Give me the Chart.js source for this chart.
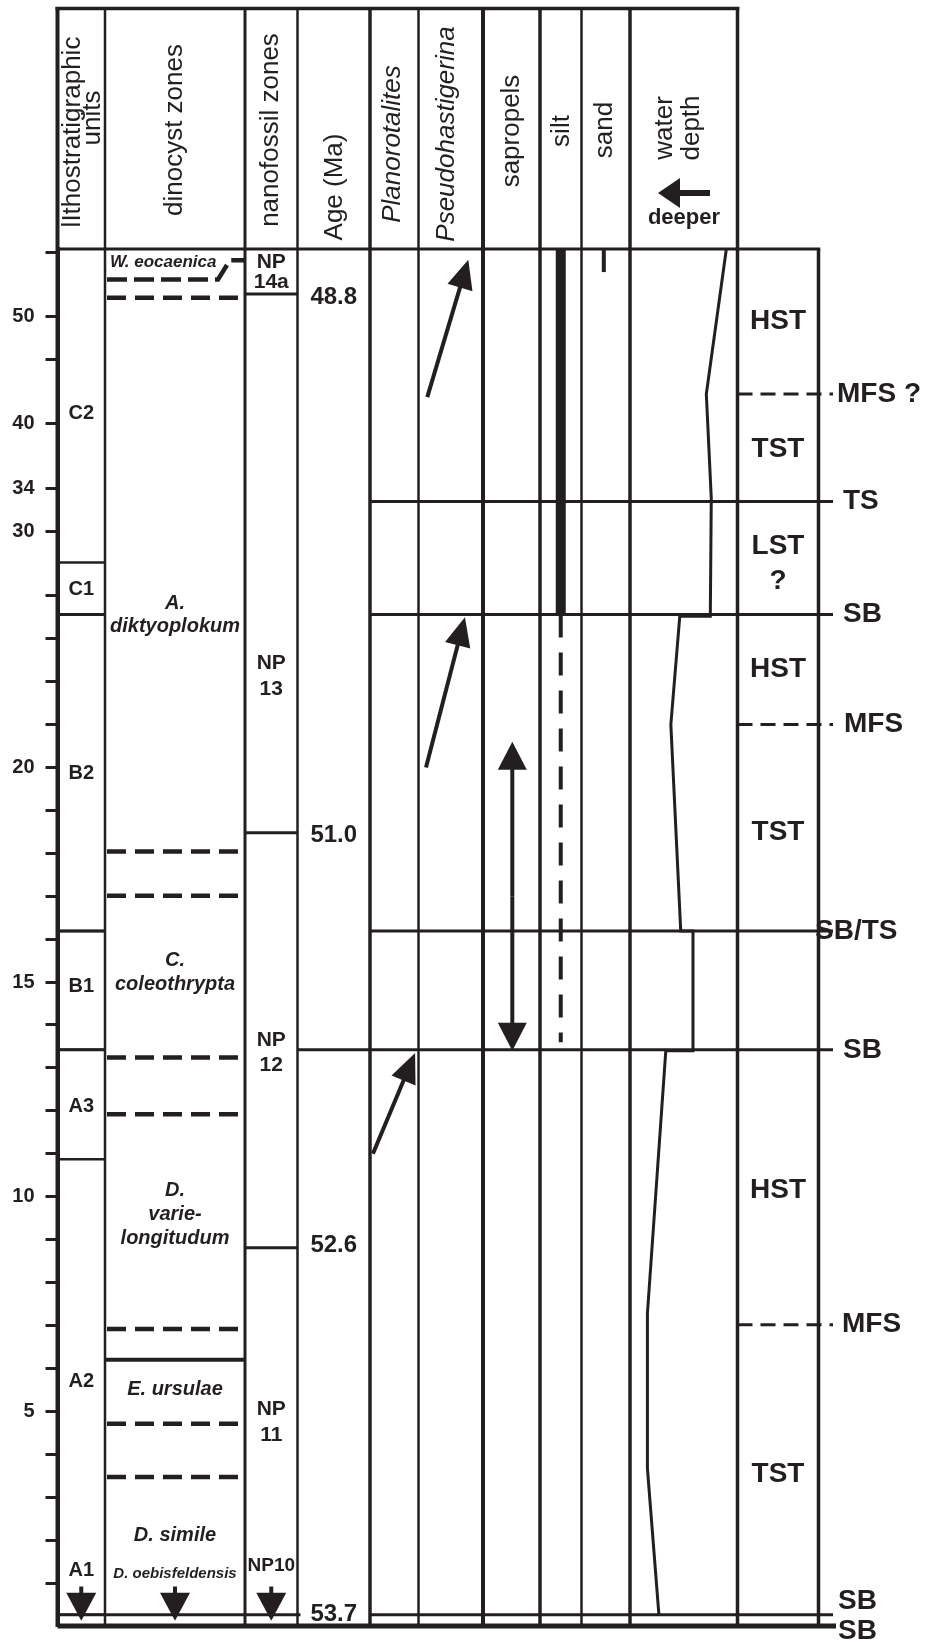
<!DOCTYPE html>
<html>
<head>
<meta charset="utf-8">
<script src="https://cdn.jsdelivr.net/npm/chart.js@4.4.1/dist/chart.umd.min.js"></script>
<style>
  html, body { margin: 0; padding: 0; background: #fff; }
  #wrap { width: 935px; height: 1649px; position: relative; }
</style>
</head>
<body>
<div id="wrap"><canvas id="chart"></canvas></div>
<script>
// ---- data (depth in m) ----
var tickDepths = [1,2,3,4,5,6,7,8,9,10,11,12,13,14,15,16,17,18,19,20,21,22,23,24,30,34,40,46,50,56];
var labelledTicks = [5,10,15,20,30,34,40,50];
var topDepth = 56.3;

var lithoUnits = ['C2','C1','B2','B1','A3','A2','A1'];
var lithoLabelDepth = [41.0, 24.55, 19.85, 14.9, 12.1, 5.7, 1.3];
var lithoBoundaries = [27.1, 23.56, 16.19, 13.42, 10.87, 0.26];

var dinoLabels = ['W. eocaenica','A.','diktyoplokum','C.','coleothrypta','D.','varie-','longitudum','E. ursulae','D. simile','D. oebisfeldensis'];
var dinoLabelDepth = [55.1, 23.81, 23.28, 15.5, 14.95, 10.14, 9.58, 9.03, 5.51, 2.12, 1.21];
var dinoDashed = [51.75, 18.04, 17.01, 13.24, 11.92, 6.92, 4.71, 3.47];
var dinoSolid = [6.2];
var eocaenicaBase = [53.46, 55.26];

var nanoLabels = ['NP','14a','NP','13','NP','12','NP','11','NP10'];
var nanoLabelDepth = [55.1, 53.24, 22.43, 21.81, 13.65, 13.07, 5.05, 4.44, 1.4];
var nanoBoundaries = [52.1, 18.48, 8.81];

var ages = ['48.8','51.0','52.6','53.7'];
var ageDepth = [51.81, 18.42, 8.86, 0.28];

var rangeFrom = [11.0, 42.5, 20.0];   // Planorotalites, Pseudohastigerina x2
var rangeTo = [13.35, 55.3, 23.5];
var sapropelRange = [13.4, 20.6];
var siltSolid = [56.3, 23.56];
var siltDashed = [23.56, 13.6];
var sandRange = [56.2, 54.15];

var waterDepthAt = [56.2, 42.79, 33.09, 23.52, 23.52, 21.0, 16.19, 16.19, 13.4, 13.4, 7.28, 3.67, 0.26];
var waterDepthIndex = [89.5, 71.0, 75.6, 74.7, 46.3, 38.0, 47.2, 58.6, 58.6, 33.3, 16.2, 16.2, 26.9]; // % across column, left = deeper

var surfaceNames = ['MFS ?','TS','SB','MFS','SB/TS','SB','MFS','SB','SB'];
var surfaceDepth = [42.79, 32.77, 23.56, 21.0, 16.19, 13.42, 7.02, 0.26, 0];

var tracts = ['HST','TST','LST','?','HST','TST','HST','TST'];
var tractDepth = [49.52, 37.65, 28.59, 25.33, 22.28, 18.48, 10.15, 3.53];

// ---- layout ----
var INK = '#231f20';
var FONT = '"Liberation Sans", Arial, Helvetica, sans-serif';
var scaleBreak = 24, upperCompression = 4;   // upper part of the log is drawn at 1/4 scale
function toAxis(d) { return d <= scaleBreak ? d : scaleBreak + (d - scaleBreak) / upperCompression; }

var colEdges = [0, 47.5, 187.5, 240, 312.5, 361, 425.5, 482.5, 524, 572.5, 680, 761];
var colLineW = [4, 2.5, 3, 2.5, 3.5, 2.5, 4, 3.5, 2.5, 3.5, 3.5, 3.5];
var headerTop = 8.5;

var surfaceSpans = [
  [[680, 775.5]], [[312.5, 775.5]], [[0, 47.5], [312.5, 775.5]], [[680, 775.5]],
  [[0, 47.5], [312.5, 775.5]], [[0, 47.5], [240, 775.5]], [[680, 775.5]],
  [[0, 243], [312.5, 775.5]], [[0, 778.5]]
];
var surfaceLabelX = [837, 843, 843, 844, 815, 843, 842, 838, 838];
var surfaceLabelDy = [0, 0, 0, 0, 0, 0, 0, -14, 5];

var waterPoints = waterDepthAt.map(function(d, i) {
  return { x: colEdges[9] + waterDepthIndex[i] / 100 * (colEdges[10] - colEdges[9]), y: toAxis(d) };
});

var logPlugin = {
  id: 'stratLog',
  afterDraw: function(chart) {
    var ctx = chart.ctx;
    var xs = chart.scales.x, ys = chart.scales.y;
    var X = function(v) { return xs.getPixelForValue(v); };
    var Y = function(d) { return ys.getPixelForValue(toAxis(d)); };
    var colX = function(i, f) { return X(colEdges[i] + f * (colEdges[i + 1] - colEdges[i])); };
    var top = chart.chartArea.top, bottom = chart.chartArea.bottom;

    function line(x1, y1, x2, y2, w, dash) {
      ctx.save();
      ctx.strokeStyle = INK; ctx.lineWidth = w; ctx.setLineDash(dash || []);
      ctx.beginPath(); ctx.moveTo(x1, y1); ctx.lineTo(x2, y2); ctx.stroke();
      ctx.restore();
    }
    function arrow(x1, y1, x2, y2, w, hl, hw) {
      var a = Math.atan2(y2 - y1, x2 - x1);
      var bx = x2 - hl * Math.cos(a), by = y2 - hl * Math.sin(a);
      line(x1, y1, bx + 2 * Math.cos(a), by + 2 * Math.sin(a), w);
      ctx.save(); ctx.fillStyle = INK; ctx.beginPath();
      ctx.moveTo(x2, y2);
      ctx.lineTo(bx + hw * Math.sin(a), by - hw * Math.cos(a));
      ctx.lineTo(bx - hw * Math.sin(a), by + hw * Math.cos(a));
      ctx.closePath(); ctx.fill(); ctx.restore();
    }
    function txt(s, x, y, font, align) {
      ctx.save(); ctx.fillStyle = INK; ctx.font = font;
      ctx.textAlign = align || 'center'; ctx.textBaseline = 'middle';
      ctx.fillText(s, x, y); ctx.restore();
    }
    function vtxt(s, x, y, font) {
      ctx.save(); ctx.translate(x, y); ctx.rotate(-Math.PI / 2);
      txt(s, 0, 0, font); ctx.restore();
    }

    // header frame
    line(X(0) - 2, headerTop, X(colEdges[10]) + 1.75, headerTop, 3.5);
    for (var i = 0; i <= 10; i++) line(X(colEdges[i]), headerTop - 1.5, X(colEdges[i]), top, colLineW[i]);
    // body frame
    line(X(0), top, X(colEdges[11]) + 1.75, top, 3);
    for (i = 0; i <= 11; i++) line(X(colEdges[i]), top, X(colEdges[i]), bottom + 1, colLineW[i]);

    // header text
    var hf = '26px ' + FONT, hfi = 'italic 26px ' + FONT;
    vtxt('lIthostratigraphic', 73, 132, hf);
    vtxt('units', 93, 118, hf);
    vtxt('dinocyst zones', 175, 130, hf);
    vtxt('nanofossil zones', 271, 130, hf);
    vtxt('Age (Ma)', 335, 187, hf);
    vtxt('Planorotalites', 393, 144, hfi);
    vtxt('Pseudohastigerina', 447, 134, hfi);
    vtxt('sapropels', 512, 131, hf);
    vtxt('silt', 562, 131, hf);
    vtxt('sand', 605, 130, hf);
    vtxt('water', 665, 128, hf);
    vtxt('depth', 692, 128, hf);
    arrow(710, 193, 658, 193, 6, 22, 15);
    txt('deeper', 684, 218, 'bold 22px ' + FONT);

    // lithostratigraphy
    lithoBoundaries.forEach(function(d) { line(X(colEdges[0]), Y(d), X(colEdges[1]), Y(d), 2.5); });
    lithoUnits.forEach(function(u, k) { txt(u, colX(0, 0.5), Y(lithoLabelDepth[k]), 'bold 20px ' + FONT); });

    // dinocyst zones
    dinoDashed.forEach(function(d) { line(X(colEdges[1]) + 2, Y(d), X(colEdges[2]), Y(d), 4.5, [19, 9]); });
    dinoSolid.forEach(function(d) { line(X(colEdges[1]), Y(d), X(colEdges[2]), Y(d), 4); });
    ctx.save(); ctx.strokeStyle = INK; ctx.lineWidth = 4.5; ctx.setLineDash([20, 7]);
    ctx.beginPath();
    ctx.moveTo(X(colEdges[1]) + 2, Y(eocaenicaBase[0]));
    ctx.lineTo(218, Y(eocaenicaBase[0]));
    ctx.lineTo(230, Y(eocaenicaBase[1]));
    ctx.lineTo(X(colEdges[2]), Y(eocaenicaBase[1]));
    ctx.stroke(); ctx.restore();
    dinoLabels.forEach(function(s, k) {
      if (k === 0) { txt(s, 110, Y(dinoLabelDepth[k]), 'italic bold 17px ' + FONT, 'left'); return; }
      var f = k === 10 ? 'italic bold 15px ' : 'italic bold 20px ';
      txt(s, colX(1, 0.5), Y(dinoLabelDepth[k]), f + FONT);
    });

    // nanofossil zones
    nanoBoundaries.forEach(function(d) { line(X(colEdges[2]), Y(d), X(colEdges[3]), Y(d), 3); });
    nanoLabels.forEach(function(s, k) {
      txt(s, colX(2, 0.5), Y(nanoLabelDepth[k]), (k === 8 ? 'bold 19px ' : 'bold 21px ') + FONT);
    });

    // ages
    ages.forEach(function(s, k) { txt(s, colX(3, 0.5), Y(ageDepth[k]), 'bold 24px ' + FONT); });

    // down arrows (units continue below)
    [0, 1, 2].forEach(function(c) { arrow(colX(c, 0.5), Y(0.92), colX(c, 0.5), Y(0.12), 4, 28, 15); });

    // surfaces
    surfaceNames.forEach(function(s, k) {
      var dashed = s.indexOf('MFS') === 0;
      var w = k === 8 ? 5 : 3;
      surfaceSpans[k].forEach(function(sp) {
        line(X(sp[0]), Y(surfaceDepth[k]), X(sp[1]), Y(surfaceDepth[k]), w, dashed ? [15, 8] : null);
      });
    });

    // silt / sand
    ctx.save(); ctx.fillStyle = INK;
    ctx.fillRect(colX(7, 0.5) - 5, Y(siltSolid[0]), 10, Y(siltSolid[1]) - Y(siltSolid[0]));
    ctx.restore();
    line(colX(7, 0.5), Y(siltDashed[0]), colX(7, 0.5), Y(siltDashed[1]), 4, [23, 15]);
    line(colX(8, 0.46), Y(sandRange[0]), colX(8, 0.46), Y(sandRange[1]), 4);

    // range arrows
    arrow(colX(4, 0.06), Y(rangeFrom[0]), colX(4, 0.93), Y(rangeTo[0]), 4, 30, 13);
    arrow(colX(5, 0.136), Y(rangeFrom[1]), colX(5, 0.772), Y(rangeTo[1]), 4, 29, 13);
    arrow(colX(5, 0.116), Y(rangeFrom[2]), colX(5, 0.72), Y(rangeTo[2]), 4, 29, 13);
    var sx = colX(6, 0.514), sm = (Y(sapropelRange[0]) + Y(sapropelRange[1])) / 2;
    arrow(sx, sm, sx, Y(sapropelRange[1]), 4, 28, 14.5);
    arrow(sx, sm, sx, Y(sapropelRange[0]), 4, 28, 14.5);

    // systems tracts and surface names
    tracts.forEach(function(s, k) { txt(s, colX(10, 0.5), Y(tractDepth[k]), 'bold 28px ' + FONT); });
    surfaceNames.forEach(function(s, k) {
      txt(s, surfaceLabelX[k], Y(surfaceDepth[k]) + surfaceLabelDy[k], 'bold 28px ' + FONT, 'left');
    });
  }
};

new Chart('chart', {
  type: 'scatter',
  data: {
    datasets: [{
      data: waterPoints,
      showLine: true,
      borderColor: INK,
      borderWidth: 3,
      pointRadius: 0,
      tension: 0,
      clip: false
    }]
  },
  options: {
    responsive: true,
    maintainAspectRatio: false,
    animation: false,
    devicePixelRatio: 1,
    layout: { padding: { left: 0, top: 249, right: 116.5, bottom: 20.5 } },
    plugins: { legend: { display: false }, tooltip: { enabled: false } },
    scales: {
      x: { type: 'linear', min: 0, max: 761, display: false },
      y: {
        type: 'linear',
        min: 0,
        max: toAxis(topDepth),
        afterFit: function(scale) { scale.width = 57.5; },
        afterBuildTicks: function(scale) {
          scale.ticks = tickDepths.map(function(d) { return { value: toAxis(d) }; });
        },
        grid: { drawOnChartArea: false, drawTicks: true, tickLength: 12, tickWidth: 3, tickColor: INK, color: INK },
        border: { display: true, width: 4, color: INK },
        ticks: {
          autoSkip: false,
          padding: 11,
          color: INK,
          font: { family: FONT, size: 20, weight: 'bold' },
          callback: function(value, index) {
            var d = tickDepths[index];
            return labelledTicks.indexOf(d) >= 0 ? String(d) : '';
          }
        }
      }
    }
  },
  plugins: [logPlugin]
});
</script>
</body>
</html>
